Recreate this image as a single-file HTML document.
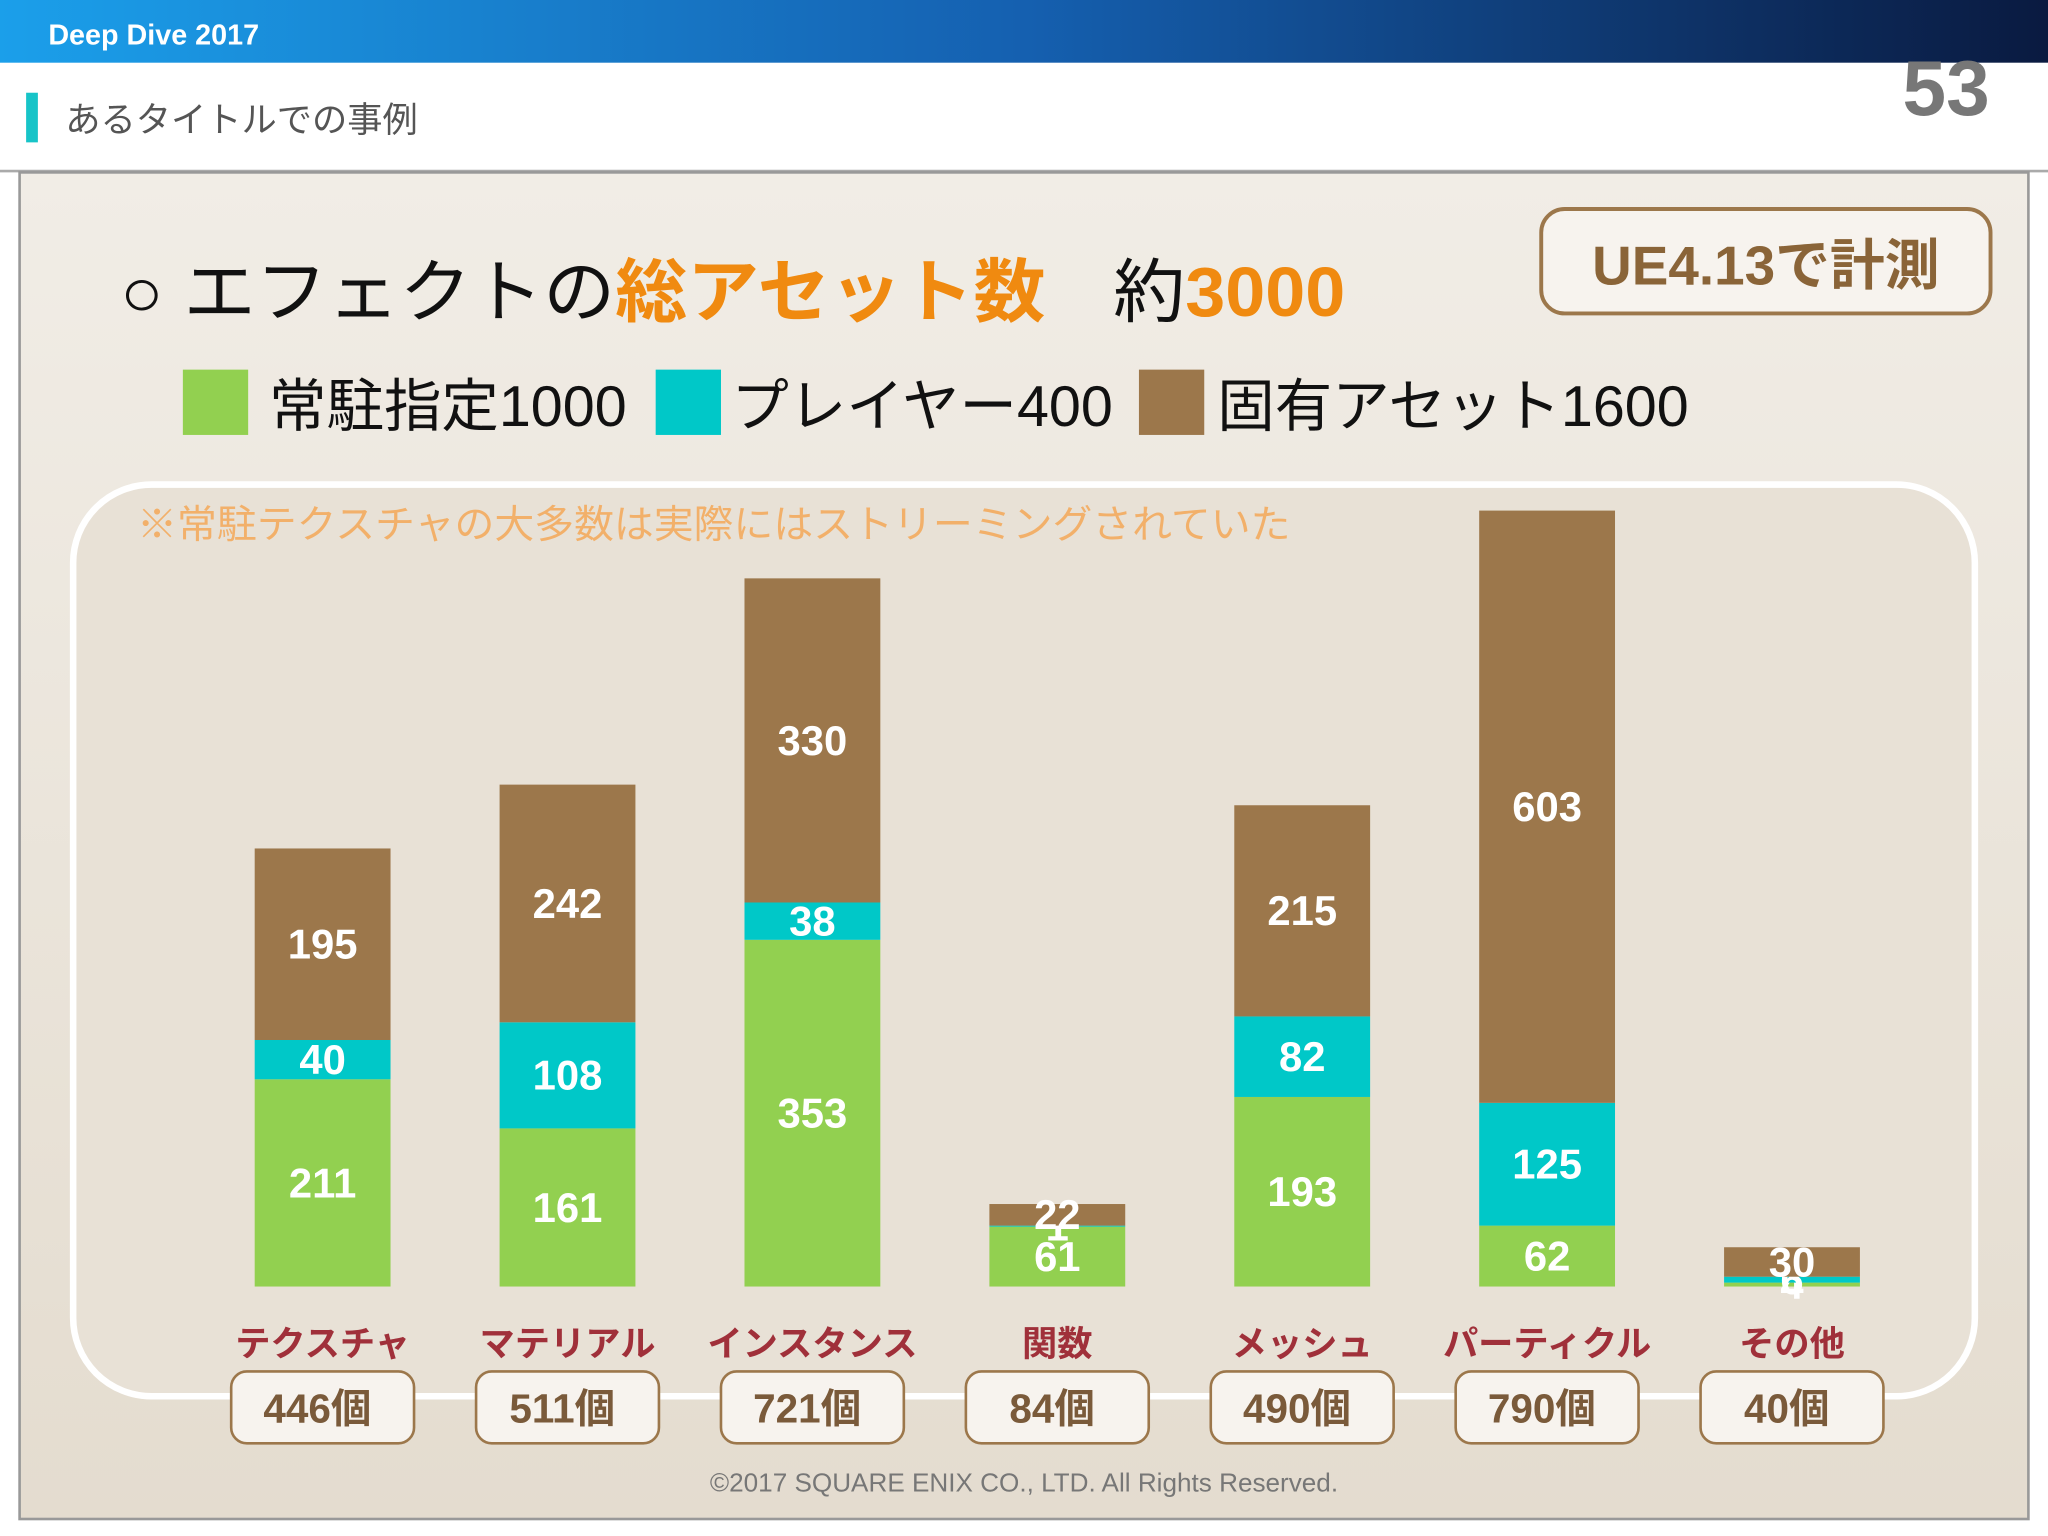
<!DOCTYPE html>
<html><head><meta charset="utf-8"><style>
html,body{margin:0;padding:0;background:#fff;}
svg{display:block;font-family:"Liberation Sans","Noto Sans CJK JP",sans-serif;}
</style></head><body>
<svg id="chart" width="2048" height="1536" viewBox="0 0 1568 1176" xmlns="http://www.w3.org/2000/svg">
<defs>
<linearGradient id="hdr" x1="0" x2="1" y1="0" y2="0"><stop offset="0" stop-color="#1b9fea"/><stop offset="0.5" stop-color="#1560b0"/><stop offset="1" stop-color="#0a1a40"/></linearGradient>
<linearGradient id="bg" x1="0" x2="0" y1="0" y2="1"><stop offset="0" stop-color="#f1ede6"/><stop offset="1" stop-color="#e4dccf"/></linearGradient>
</defs>
<rect x="0" y="0" width="1568" height="1176" fill="#fff"/>
<rect x="0" y="0" width="1568" height="48" fill="url(#hdr)"/>
<text x="37" y="34" font-size="22" font-weight="bold" fill="#fff">Deep Dive 2017</text>
<rect x="20" y="71" width="9" height="38" fill="#17c4c8"/>
<text x="50" y="101" font-size="27" fill="#555">あるタイトルでの事例</text>
<text x="1490" y="88" font-size="60" font-weight="bold" fill="#777" text-anchor="middle">53</text>
<line x1="0" y1="131" x2="1568" y2="131" stroke="#aaa" stroke-width="2"/>
<rect x="15" y="132" width="1538" height="1031" fill="url(#bg)" stroke="#999" stroke-width="2"/>
<text x="92" y="242" font-size="53" fill="#111" textLength="938" lengthAdjust="spacingAndGlyphs">○ エフェクトの<tspan fill="#f08a10" font-weight="bold">総アセット数</tspan><tspan dx="50">約</tspan><tspan fill="#f08a10" font-weight="bold">3000</tspan></text>
<rect x="1180" y="160" width="344" height="80" rx="18" fill="#f7f3ee" stroke="#9c774b" stroke-width="3"/>
<text x="1352" y="218" font-size="42" font-weight="bold" fill="#8a6438" text-anchor="middle">UE4.13で計測</text>
<g>
<rect x="140" y="283" width="50" height="50" fill="#92d050"/>
<text x="206" y="326" font-size="44" fill="#111">常駐指定1000</text>
<rect x="502" y="283" width="50" height="50" fill="#00c8c8"/>
<text x="560" y="326" font-size="44" fill="#111">プレイヤー400</text>
<rect x="872" y="283" width="50" height="50" fill="#9c774b"/>
<text x="932" y="326" font-size="44" fill="#111">固有アセット1600</text>
</g>
<rect x="56" y="371" width="1456" height="698" rx="60" fill="#e8e1d6" stroke="#fff" stroke-width="5"/>
<text x="105" y="412" font-size="30" fill="#f2b06a" textLength="883" lengthAdjust="spacingAndGlyphs">※常駐テクスチャの大多数は実際にはストリーミングされていた</text>
<g id="bars"></g>
<text x="784" y="1142" font-size="20" fill="#777" text-anchor="middle">©2017 SQUARE ENIX CO., LTD. All Rights Reserved.</text>
</svg>
<script>
const categories=["テクスチャ","マテリアル","インスタンス","関数","メッシュ","パーティクル","その他"];
const residentValues=[211,161,353,61,193,62,4];
const playerValues=[40,108,38,1,82,125,6];
const uniqueValues=[195,242,330,22,215,603,30];
const totalLabels=["446個","511個","721個","84個","490個","790個","40個"];
const baseY=985, pxPerUnit=0.752, x0=247, step=187.5, bw=104;
const y=v=>baseY-v*pxPerUnit;
const xc=i=>x0+i*step;
const NS="http://www.w3.org/2000/svg";
const g=document.getElementById('bars');
function mk(tag,attrs,text){const e=document.createElementNS(NS,tag);for(const k in attrs)e.setAttribute(k,attrs[k]);if(text!==undefined)e.textContent=text;g.appendChild(e);return e;}
const series=[["resident",residentValues,"#92d050"],["player",playerValues,"#00c8c8"],["unique",uniqueValues,"#9c774b"]];
categories.forEach((c,i)=>{
  let acc=0;
  series.forEach(([nm,vals,col])=>{
    const v=vals[i];const top=y(acc+v),bot=y(acc);
    const r=mk('rect',{x:xc(i)-bw/2,y:top,width:bw,height:bot-top,fill:col});
    
    
    const t=mk('text',{x:xc(i),y:(top+bot)/2+11,'font-size':32,'font-weight':'bold',fill:'#fff','text-anchor':'middle'},String(v));
    
    
    acc+=v;
  });
  const cl=mk('text',{x:xc(i),y:1038,'font-size':27,'font-weight':'bold',fill:'#a0303a','text-anchor':'middle'},c);
  
  
  const b=mk('rect',{x:xc(i)-70,y:1050,width:140,height:55,rx:12,fill:'#f7f3ee',stroke:'#9c774b','stroke-width':2});
  
  
  const tt=mk('text',{x:xc(i)-4,y:1089,'font-size':31,'font-weight':'bold',fill:'#7a5a3a','text-anchor':'middle'},totalLabels[i]);
  
  
});
</script>
</body></html>
